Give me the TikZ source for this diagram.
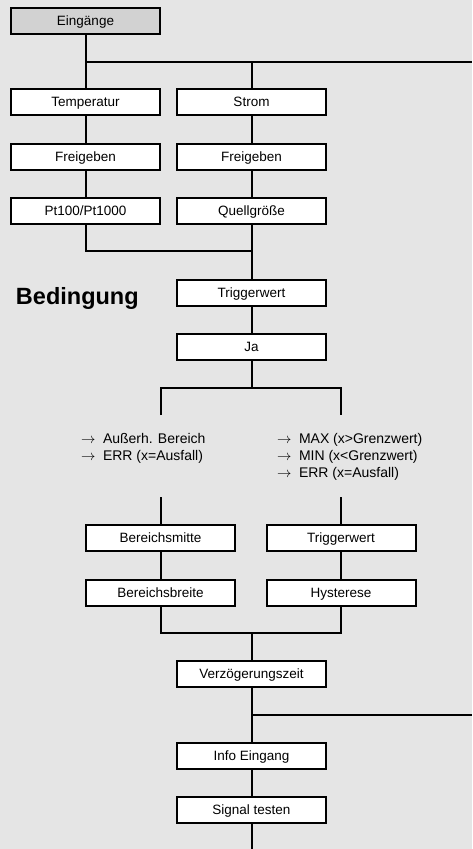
\documentclass[tikz,border=0pt]{standalone}
\usepackage{fontspec}
\setmainfont{Liberation Sans}
\usetikzlibrary{positioning}
\definecolor{bg}{RGB}{229,229,229}
\definecolor{head}{RGB}{210,210,210}
\newcommand{\lstarrow}{\makebox[22pt][l]{$\rightarrow$}}

\begin{document}
\begin{tikzpicture}[x=1pt,y=-1pt,line width=2pt,
    box/.style={draw,fill=white,minimum width=149pt,minimum height=26pt,
                inner sep=0pt,text height=10pt,text depth=0.5pt,
                font=\fontsize{13.5}{16}\selectfont},
    hbox/.style={box,fill=head},
    lst/.style={anchor=base west,inner sep=0pt,font=\fontsize{14}{17}\selectfont}]
    \fill[bg] (0,0) rectangle (472,849);
    \useasboundingbox (0,0) rectangle (472,849);
    % inputs
    \node[hbox] (ein)    at (85.5,20.5)  {Eingänge};
    \node[box]  (temp)   at (85.5,102)   {Temperatur};
    \node[box]  (strom)  at (251.5,102)  {Strom};
    \node[box]  (frei1)  at (85.5,157)   {Freigeben};
    \node[box]  (frei2)  at (251.5,157)  {Freigeben};
    \node[box]  (pt)     at (85.5,211)   {Pt100/Pt1000};
    \node[box]  (quell)  at (251.5,211)  {Quellgröße};
    % condition
    \node[anchor=base west,inner sep=0pt,
          font=\fontsize{23.5}{28}\selectfont\bfseries] (bed) at (15,304) {Bedingung};
    \node[box]  (trig)   at (251.5,292.5) {Triggerwert};
    \node[box]  (ja)     at (251.5,347)  {Ja};
    \node[lst]  (l1) at (80,443)  {\lstarrow Außerh. Bereich};
    \node[lst]  (l2) at (80,460)  {\lstarrow ERR (x=Ausfall)};
    \node[lst]  (r1) at (276,443) {\lstarrow MAX (x>Grenzwert)};
    \node[lst]  (r2) at (276,460) {\lstarrow MIN (x<Grenzwert)};
    \node[lst]  (r3) at (276,477) {\lstarrow ERR (x=Ausfall)};
    \node[box]  (bmitte)  at (160.5,538)   {Bereichsmitte};
    \node[box]  (trig2)   at (341,538)     {Triggerwert};
    \node[box]  (bbreite) at (160.5,592.5) {Bereichsbreite};
    \node[box]  (hyst)    at (341,592.5)   {Hysterese};
    % output
    \node[box]  (verz)   at (251.5,674)  {Verzögerungszeit};
    \node[box]  (info)   at (251.5,755.5) {Info Eingang};
    \node[box]  (signal) at (251.5,810)  {Signal testen};
    % junctions
    \coordinate (jin)   at (85.5,62);
    \coordinate (rin)   at (472,62);
    \coordinate (jsrc)  at (251.5,251);
    \coordinate (jja)   at (251.5,388);
    \coordinate (lt)    at (161,415);
    \coordinate (rt)    at (341,415);
    \coordinate (lb)    at (160.5,497);
    \coordinate (rb)    at (341,497);
    \coordinate (jout)  at (251.5,633);
    \coordinate (jinfo) at (251.5,715);
    \coordinate (rinfo) at (472,715);
    \coordinate (bot)   at (251.5,849);
    % lines
    \draw (ein) -- (temp);
    \draw (jin) -- (rin);
    \draw (strom) -- (strom |- jin);
    \draw (temp) -- (frei1); \draw (frei1) -- (pt);
    \draw (strom) -- (frei2); \draw (frei2) -- (quell);
    \draw (pt) |- (jsrc);
    \draw (quell) -- (trig);
    \draw (trig) -- (ja);
    \draw (ja) -- (jja);
    \draw (lt) |- (jja) -| (rt);
    \draw (lb) -- (bmitte); \draw (rb) -- (trig2);
    \draw (bmitte) -- (bbreite); \draw (trig2) -- (hyst);
    \draw (bbreite) |- (jout) -| (hyst);
    \draw (jout) -- (verz);
    \draw (verz) -- (info);
    \draw (jinfo) -- (rinfo);
    \draw (info) -- (signal);
    \draw (signal) -- (bot);
\end{tikzpicture}
\end{document}
